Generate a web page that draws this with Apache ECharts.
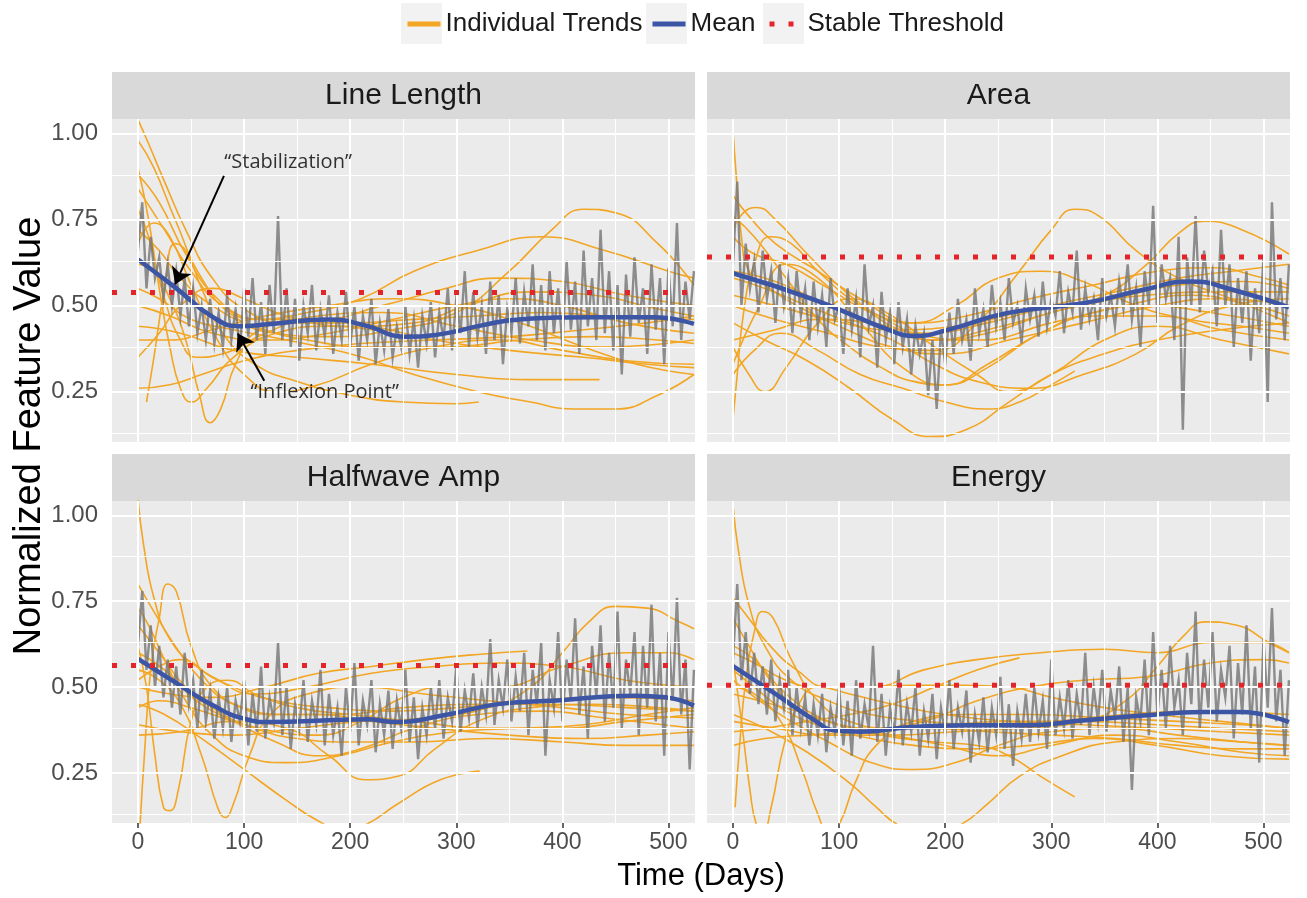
<!DOCTYPE html>
<html><head><meta charset="utf-8">
<script src="https://cdn.jsdelivr.net/npm/echarts@6/dist/echarts.min.js"></script>
<style>html,body{margin:0;padding:0;background:#fff}#c{width:1307px;height:898px}</style>
</head><body><div id="c"></div>
<script>
// ---------------- DATA ----------------
const panelNames = ['Line Length', 'Area', 'Halfwave Amp', 'Energy'];
const thresholds = [0.538, 0.641, 0.5625, 0.505];
const xTickValues = [0, 100, 200, 300, 400, 500];
const xMinorValues = [50, 150, 250, 350, 450];
const yTickValues = [0.25, 0.5, 0.75, 1.0];
const yMinorValues = [0.125, 0.375, 0.625, 0.875];
const legendNames = ['Individual Trends', 'Mean', 'Stable Threshold'];

const meanLineLength = [[0,0.634],[35,0.553],[71,0.466],[96,0.44],[125,0.447],[179,0.46],[215,0.442],[251,0.41],[287,0.418],[323,0.442],[359,0.46],[431,0.466],[486,0.466],[524,0.447]];
const meanArea = [[0,0.594],[77,0.517],[150,0.426],[172,0.412],[204,0.431],[259,0.479],[332,0.508],[387,0.546],[431,0.57],[471,0.546],[524,0.495]];
const meanHalfwave = [[0,0.582],[35,0.514],[71,0.446],[100,0.408],[125,0.398],[179,0.403],[215,0.406],[244,0.398],[287,0.417],[341,0.451],[395,0.461],[468,0.475],[497,0.47],[524,0.446]];
const meanEnergy = [[0,0.561],[40,0.48],[77,0.403],[95,0.374],[120,0.37],[168,0.384],[223,0.389],[277,0.389],[332,0.403],[387,0.417],[442,0.427],[478,0.427],[524,0.398]];

// daily mean (gray), one value every grayStepDays days from day 0
const grayStepDays = 4;
const grayLineLength = [
0.66,0.80,0.55,0.70,0.58,0.64,0.52,0.62,0.50,0.60,
0.47,0.58,0.44,0.55,0.42,0.50,0.40,0.52,0.39,0.48,
0.38,0.53,0.40,0.49,0.37,0.55,0.41,0.58,0.40,0.51,
0.36,0.56,0.42,0.76,0.40,0.55,0.38,0.52,0.34,0.50,
0.42,0.56,0.37,0.49,0.41,0.53,0.36,0.48,0.40,0.54,
0.38,0.50,0.34,0.47,0.40,0.52,0.33,0.45,0.37,0.49,
0.35,0.44,0.38,0.50,0.36,0.46,0.32,0.47,0.39,0.51,
0.35,0.48,0.40,0.55,0.37,0.52,0.42,0.60,0.38,0.54,
0.41,0.50,0.36,0.57,0.40,0.53,0.33,0.49,0.42,0.58,
0.39,0.54,0.44,0.62,0.40,0.56,0.37,0.60,0.42,0.55,
0.38,0.63,0.43,0.57,0.36,0.66,0.44,0.58,0.40,0.72,
0.42,0.60,0.37,0.56,0.30,0.59,0.41,0.64,0.45,0.55,
0.36,0.62,0.43,0.58,0.33,0.61,0.44,0.74,0.40,0.57,
0.46,0.60];
const grayArea = [
0.62,0.86,0.50,0.68,0.55,0.63,0.48,0.66,0.52,0.60,
0.45,0.62,0.50,0.58,0.42,0.60,0.47,0.55,0.40,0.57,
0.44,0.53,0.38,0.58,0.46,0.50,0.36,0.55,0.43,0.52,
0.35,0.62,0.44,0.50,0.32,0.54,0.40,0.48,0.33,0.51,
0.38,0.46,0.30,0.44,0.36,0.42,0.24,0.40,0.20,0.43,
0.33,0.48,0.36,0.52,0.40,0.46,0.34,0.55,0.42,0.49,
0.38,0.56,0.44,0.51,0.40,0.58,0.45,0.50,0.39,0.55,
0.46,0.53,0.41,0.57,0.44,0.52,0.47,0.60,0.42,0.54,
0.48,0.66,0.43,0.55,0.46,0.52,0.40,0.58,0.47,0.53,
0.44,0.57,0.49,0.62,0.46,0.55,0.38,0.60,0.50,0.79,
0.45,0.62,0.52,0.58,0.40,0.70,0.14,0.64,0.50,0.76,
0.48,0.66,0.54,0.60,0.44,0.72,0.50,0.62,0.38,0.58,
0.45,0.60,0.34,0.55,0.42,0.64,0.22,0.80,0.46,0.58,
0.40,0.62];
const grayHalfwave = [
0.62,0.78,0.55,0.68,0.50,0.62,0.47,0.58,0.44,0.56,
0.42,0.60,0.45,0.52,0.38,0.55,0.40,0.49,0.35,0.47,
0.38,0.50,0.34,0.46,0.40,0.52,0.33,0.48,0.37,0.56,
0.35,0.47,0.40,0.63,0.36,0.50,0.32,0.45,0.38,0.52,
0.34,0.46,0.39,0.55,0.33,0.48,0.36,0.44,0.30,0.50,
0.37,0.57,0.33,0.46,0.39,0.52,0.31,0.45,0.36,0.49,
0.32,0.46,0.38,0.55,0.34,0.47,0.29,0.44,0.36,0.50,
0.38,0.52,0.35,0.47,0.40,0.56,0.37,0.49,0.41,0.54,
0.38,0.50,0.42,0.64,0.39,0.52,0.44,0.58,0.40,0.53,
0.43,0.60,0.36,0.55,0.45,0.63,0.30,0.52,0.44,0.66,
0.40,0.58,0.46,0.70,0.42,0.56,0.35,0.62,0.47,0.68,
0.40,0.60,0.44,0.72,0.38,0.58,0.48,0.66,0.36,0.62,
0.44,0.74,0.40,0.60,0.30,0.66,0.46,0.76,0.42,0.58,
0.26,0.55];
const grayEnergy = [
0.58,0.80,0.52,0.66,0.48,0.60,0.45,0.56,0.42,0.58,
0.40,0.52,0.44,0.55,0.36,0.50,0.38,0.47,0.33,0.45,
0.36,0.48,0.31,0.44,0.37,0.50,0.33,0.46,0.30,0.52,
0.35,0.45,0.38,0.62,0.34,0.48,0.30,0.44,0.36,0.55,
0.33,0.45,0.37,0.50,0.30,0.43,0.35,0.48,0.29,0.44,
0.36,0.52,0.32,0.44,0.37,0.49,0.28,0.42,0.34,0.47,
0.31,0.44,0.36,0.53,0.32,0.45,0.27,0.43,0.35,0.48,
0.34,0.50,0.37,0.46,0.32,0.58,0.36,0.47,0.38,0.52,
0.35,0.48,0.39,0.60,0.36,0.50,0.40,0.55,0.37,0.49,
0.41,0.56,0.34,0.50,0.20,0.47,0.40,0.58,0.36,0.66,
0.42,0.55,0.38,0.62,0.44,0.52,0.36,0.60,0.45,0.72,
0.38,0.58,0.44,0.66,0.40,0.55,0.47,0.62,0.35,0.57,
0.42,0.68,0.38,0.56,0.28,0.64,0.44,0.73,0.40,0.55,
0.30,0.52];

// individual trends: [day, value] knots
const trendsLineLength = [
[[0,1.04],[10,0.97],[25,0.86],[45,0.72],[70,0.58],[100,0.49],[140,0.45],[200,0.45],[260,0.46],[320,0.47],[380,0.48],[440,0.47],[500,0.46],[524,0.46]],
[[0,0.98],[15,0.9],[35,0.75],[60,0.58],[90,0.47],[130,0.42],[180,0.41],[240,0.43],[300,0.48],[350,0.6],[390,0.72],[420,0.78],[450,0.77],[490,0.68],[524,0.56]],
[[0,0.88],[20,0.8],[45,0.65],[75,0.52],[110,0.46],[160,0.48],[210,0.52],[260,0.6],[320,0.66],[380,0.7],[440,0.66],[500,0.6],[524,0.58]],
[[0,0.84],[25,0.72],[50,0.6],[80,0.5],[120,0.46],[170,0.46],[230,0.5],[290,0.55],[340,0.58],[400,0.57],[460,0.53],[524,0.5]],
[[0,0.78],[10,0.7],[25,0.52],[40,0.4],[55,0.35],[80,0.36],[120,0.42],[170,0.47],[230,0.48],[300,0.44],[370,0.4],[440,0.38],[524,0.4]],
[[0,0.62],[15,0.6],[30,0.52],[45,0.4],[58,0.24],[68,0.16],[78,0.2],[92,0.33],[115,0.43],[160,0.46],[220,0.44],[280,0.4],[350,0.37],[420,0.35],[480,0.33],[524,0.32]],
[[0,0.26],[30,0.27],[60,0.3],[100,0.34],[150,0.37],[210,0.39],[280,0.4],[350,0.41],[420,0.43],[480,0.45],[524,0.47]],
[[8,0.22],[15,0.35],[25,0.55],[35,0.68],[45,0.66],[60,0.55],[80,0.42],[110,0.33],[150,0.28],[200,0.24],[250,0.22],[300,0.215],[321,0.22]],
[[0,0.44],[40,0.42],[90,0.37],[150,0.35],[220,0.33],[300,0.3],[370,0.285],[435,0.285]],
[[0,0.72],[20,0.66],[40,0.58],[70,0.5],[110,0.44],[160,0.4],[220,0.38],[290,0.38],[360,0.4],[430,0.41],[490,0.4],[524,0.39]],
[[0,0.4],[30,0.4],[70,0.43],[120,0.47],[180,0.5],[240,0.52],[300,0.5],[360,0.45],[420,0.38],[470,0.33],[524,0.3]],
[[0,0.55],[20,0.52],[50,0.46],[90,0.43],[140,0.4],[200,0.36],[260,0.3],[320,0.25],[370,0.22],[410,0.2],[450,0.2],[490,0.24],[524,0.3]],
[[0,0.68],[15,0.74],[30,0.7],[50,0.56],[75,0.4],[100,0.3],[130,0.25],[170,0.27],[220,0.33],[280,0.38],[340,0.4],[400,0.37],[460,0.34],[524,0.33]],
[[0,0.35],[20,0.42],[40,0.5],[70,0.55],[100,0.52],[140,0.47],[200,0.44],[260,0.45],[310,0.5],[370,0.54],[430,0.53],[490,0.49],[524,0.47]],
[[0,0.9],[10,0.75],[20,0.55],[30,0.38],[40,0.26],[50,0.22],[65,0.26],[90,0.35],[130,0.42],[180,0.44],[240,0.42]],
[[0,0.5],[30,0.47],[70,0.42],[120,0.4],[180,0.42],[240,0.46],[300,0.5],[350,0.52],[400,0.5],[460,0.45],[524,0.42]]
];
const trendsArea = [
[[0,1.01],[3,0.88],[8,0.7],[15,0.6],[30,0.56],[60,0.5],[100,0.44],[150,0.38],[200,0.36],[260,0.4],[330,0.45],[400,0.5],[460,0.52],[524,0.5]],
[[0,0.17],[4,0.3],[10,0.48],[20,0.62],[35,0.7],[55,0.68],[80,0.6],[120,0.5],[170,0.42],[230,0.4],[300,0.45],[370,0.5],[430,0.53],[490,0.5],[524,0.47]],
[[0,0.72],[10,0.77],[22,0.785],[40,0.75],[70,0.65],[110,0.53],[150,0.45],[190,0.4],[240,0.42],[300,0.48],[360,0.52],[420,0.56],[480,0.57],[524,0.55]],
[[0,0.5],[40,0.46],[90,0.42],[140,0.38],[190,0.37],[230,0.45],[270,0.6],[300,0.72],[322,0.78],[345,0.76],[380,0.66],[420,0.58],[470,0.52],[524,0.45]],
[[0,0.6],[40,0.57],[90,0.5],[140,0.44],[190,0.4],[240,0.43],[300,0.48],[350,0.53],[390,0.62],[420,0.71],[445,0.745],[480,0.72],[524,0.65]],
[[0,0.45],[30,0.4],[70,0.34],[110,0.26],[150,0.17],[186,0.12],[220,0.14],[260,0.22],[300,0.3],[350,0.36],[400,0.4],[460,0.43],[524,0.45]],
[[0,0.3],[20,0.37],[45,0.42],[80,0.37],[120,0.3],[160,0.26],[200,0.22],[240,0.2],[270,0.22],[300,0.27],[322,0.31]],
[[0,0.82],[15,0.76],[40,0.68],[80,0.6],[120,0.52],[170,0.45],[220,0.47],[280,0.52],[340,0.56],[400,0.6],[450,0.61],[500,0.58],[524,0.56]],
[[0,0.38],[15,0.3],[30,0.25],[50,0.32],[80,0.45],[110,0.52],[150,0.47],[190,0.38],[230,0.3],[260,0.25],[300,0.3],[350,0.4],[400,0.44],[460,0.4],[524,0.36]],
[[0,0.7],[20,0.65],[50,0.62],[90,0.55],[130,0.48],[170,0.45],[210,0.5],[250,0.58],[290,0.6],[330,0.57],[380,0.5],[430,0.46],[480,0.44],[524,0.42]],
[[0,0.58],[30,0.55],[70,0.5],[110,0.45],[150,0.4],[190,0.33],[230,0.28],[280,0.26],[330,0.3],[380,0.36],[420,0.44],[470,0.5],[524,0.52]],
[[0,0.76],[20,0.7],[50,0.58],[80,0.46],[110,0.38],[140,0.32],[170,0.28],[200,0.27],[240,0.33],[290,0.42],[340,0.48],[390,0.5],[450,0.48],[524,0.44]],
[[0,0.4],[40,0.43],[80,0.46],[130,0.45],[180,0.42],[240,0.45],[300,0.5],[360,0.54],[420,0.58],[470,0.6],[524,0.62]],
[[0,0.33],[25,0.5],[50,0.62],[80,0.58],[120,0.45],[160,0.32],[200,0.27],[240,0.32],[290,0.42],[340,0.47],[400,0.47],[460,0.43],[524,0.4]],
[[0,0.53],[40,0.5],[90,0.46],[150,0.43],[210,0.44],[270,0.48],[330,0.51],[390,0.53],[450,0.54],[524,0.54]]
];
const trendsHalfwave = [
[[0,1.05],[5,0.92],[15,0.76],[30,0.64],[55,0.56],[90,0.5],[130,0.46],[180,0.44],[240,0.43],[300,0.44],[370,0.46],[440,0.47],[524,0.46]],
[[0,0.62],[8,0.5],[16,0.3],[24,0.15],[30,0.14],[38,0.2],[50,0.4],[65,0.5],[85,0.52],[110,0.48],[150,0.44],[200,0.42],[260,0.4],[330,0.38],[400,0.38],[460,0.4],[524,0.42]],
[[2,0.1],[6,0.3],[12,0.55],[20,0.7],[28,0.8],[36,0.78],[50,0.62],[70,0.5],[100,0.44],[140,0.42],[190,0.42],[250,0.44],[320,0.45],[390,0.45],[460,0.44],[524,0.43]],
[[0,0.55],[20,0.52],[40,0.45],[60,0.3],[75,0.15],[82,0.12],[90,0.16],[105,0.3],[125,0.42],[160,0.48],[210,0.5],[270,0.48],[330,0.46],[400,0.44],[460,0.42],[524,0.41]],
[[0,0.45],[25,0.42],[60,0.35],[100,0.26],[140,0.17],[170,0.11],[192,0.085],[215,0.1],[245,0.16],[285,0.23],[322,0.255]],
[[0,0.8],[15,0.72],[35,0.62],[60,0.52],[90,0.45],[130,0.42],[170,0.42],[220,0.4],[280,0.38],[350,0.36],[420,0.35],[480,0.36],[524,0.37]],
[[0,0.5],[30,0.48],[70,0.47],[120,0.5],[170,0.54],[220,0.56],[270,0.58],[320,0.595],[367,0.605]],
[[0,0.39],[40,0.37],[90,0.36],[150,0.38],[210,0.4],[270,0.41],[330,0.44],[370,0.5],[400,0.6],[425,0.69],[450,0.735],[480,0.73],[510,0.69],[524,0.67]],
[[0,0.68],[20,0.6],[45,0.5],[75,0.43],[110,0.38],[150,0.35],[200,0.34],[260,0.34],[330,0.35],[400,0.34],[460,0.33],[524,0.33]],
[[0,0.44],[20,0.46],[50,0.44],[90,0.4],[130,0.37],[170,0.36],[210,0.4],[250,0.47],[290,0.5],[340,0.5],[400,0.56],[460,0.6],[500,0.6],[524,0.58]],
[[0,0.36],[40,0.37],[90,0.4],[140,0.38],[180,0.3],[215,0.23],[245,0.24],[280,0.32],[320,0.4],[370,0.44],[430,0.45],[490,0.44],[524,0.43]],
[[0,0.6],[25,0.55],[55,0.46],[90,0.4],[130,0.34],[170,0.3],[210,0.32],[260,0.38],[320,0.42],[380,0.43],[440,0.41],[524,0.38]],
[[0,0.52],[20,0.56],[40,0.58],[70,0.53],[110,0.48],[160,0.5],[220,0.54],[280,0.56],[340,0.57],[400,0.56],[460,0.52],[524,0.5]],
[[0,0.73],[10,0.68],[25,0.58],[45,0.46],[70,0.36],[100,0.3],[140,0.28],[190,0.3],[240,0.34],[300,0.37],[360,0.38],[420,0.39],[480,0.42],[524,0.44]]
];
const trendsEnergy = [
[[0,1.03],[5,0.9],[15,0.74],[30,0.62],[55,0.52],[90,0.46],[130,0.42],[180,0.4],[240,0.39],[300,0.4],[370,0.42],[440,0.43],[524,0.42]],
[[0,0.58],[8,0.4],[16,0.2],[22,0.1],[28,0.08],[36,0.15],[48,0.33],[62,0.45],[80,0.5],[110,0.48],[150,0.45],[200,0.42],[260,0.4],[330,0.39],[400,0.38],[460,0.37],[524,0.36]],
[[2,0.15],[6,0.32],[12,0.52],[20,0.66],[28,0.72],[38,0.7],[55,0.58],[80,0.46],[110,0.4],[150,0.38],[200,0.39],[260,0.4],[330,0.4],[400,0.39],[460,0.38],[524,0.37]],
[[0,0.5],[20,0.48],[45,0.4],[65,0.26],[80,0.13],[90,0.08],[100,0.1],[115,0.22],[135,0.33],[170,0.4],[220,0.42],[280,0.42],[350,0.41],[420,0.4],[480,0.39],[524,0.38]],
[[0,0.42],[30,0.38],[70,0.31],[110,0.22],[135,0.15],[155,0.1],[185,0.07],[215,0.1],[240,0.16],[270,0.24],[310,0.3],[360,0.34],[420,0.35],[480,0.34],[524,0.33]],
[[0,0.62],[20,0.58],[50,0.48],[90,0.4],[140,0.36],[190,0.34],[230,0.33],[260,0.3],[290,0.24],[322,0.18]],
[[0,0.4],[40,0.38],[90,0.36],[150,0.36],[210,0.37],[270,0.38],[330,0.4],[370,0.46],[400,0.56],[425,0.65],[445,0.69],[475,0.68],[505,0.63],[524,0.6]],
[[0,0.76],[15,0.7],[35,0.62],[60,0.55],[90,0.5],[130,0.5],[180,0.55],[230,0.58],[290,0.6],[350,0.61],[400,0.6],[450,0.63],[500,0.63],[524,0.6]],
[[0,0.6],[20,0.57],[50,0.52],[80,0.5],[120,0.5],[170,0.505],[220,0.505],[260,0.5],[300,0.47],[350,0.44],[400,0.42],[460,0.4],[524,0.38]],
[[0,0.37],[30,0.38],[70,0.4],[110,0.42],[150,0.45],[190,0.5],[230,0.55],[270,0.585]],
[[0,0.55],[20,0.5],[50,0.43],[90,0.38],[130,0.35],[170,0.33],[220,0.32],[280,0.33],[340,0.35],[400,0.33],[460,0.3],[524,0.29]],
[[0,0.48],[25,0.46],[60,0.43],[100,0.39],[150,0.36],[200,0.33],[250,0.3],[300,0.33],[360,0.36],[420,0.34],[480,0.31],[524,0.3]],
[[0,0.33],[30,0.35],[70,0.36],[120,0.37],[180,0.38],[240,0.37],[300,0.36],[360,0.35],[420,0.33],[480,0.32],[524,0.32]],
[[0,0.7],[15,0.62],[35,0.52],[60,0.44],[90,0.4],[130,0.38],[180,0.4],[230,0.46],[280,0.5],[330,0.52],[390,0.53],[450,0.57],[500,0.58],[524,0.57]],
[[0,0.52],[25,0.46],[55,0.4],[90,0.34],[130,0.28],[170,0.26],[210,0.28],[250,0.33],[300,0.37],[360,0.38],[420,0.36],[480,0.34],[524,0.33]]
];

const annotations = [
  {text: '\u201cStabilization\u201d', at: [141.5, 0.915], from: [81, 0.877], to: [35, 0.562]},
  {text: '\u201cInflexion Point\u201d', at: [176, 0.247], from: [119, 0.282], to: [94, 0.419]}
];

// ---------------- LAYOUT / STYLE ----------------
const FONT = "'Liberation Sans', Arial, Helvetica, sans-serif";
const X_MIN = -24.5, X_MAX = 525, Y_MIN = 0.104, Y_MAX = 1.042;
const layout = [
  {left: 112, top: 119, width: 583, height: 323},
  {left: 707, top: 119, width: 583, height: 323},
  {left: 112, top: 501, width: 583, height: 322},
  {left: 707, top: 501, width: 583, height: 322}
];
const legendLeft = [405, 650, 767];
const STRIP_H = 47;
const ORANGE = '#f3a623', BLUE = '#3c55a5', RED = '#e3242b', GRAY = '#767676';

const means = [meanLineLength, meanArea, meanHalfwave, meanEnergy];
const grays = [grayLineLength, grayArea, grayHalfwave, grayEnergy];
const trends = [trendsLineLength, trendsArea, trendsHalfwave, trendsEnergy];

const grid = [], xAxis = [], yAxis = [], series = [], graphic = [];

// legend key backgrounds (ggplot style)
legendLeft.forEach(x => graphic.push({type: 'rect',
  shape: {x: x - 4, y: 3, width: 41, height: 41}, style: {fill: '#f2f2f2'}, silent: true, z: -1}));

layout.forEach((l, i) => {
  grid.push({left: l.left, top: l.top, width: l.width, height: l.height, show: true,
    backgroundColor: '#ebebeb', borderWidth: 0});
  const bottomRow = i >= 2, leftCol = i % 2 === 0;
  xAxis.push({type: 'value', gridIndex: i, min: X_MIN, max: X_MAX,
    splitLine: {show: false}, axisLine: {show: false},
    axisTick: {show: bottomRow, customValues: xTickValues, length: 5, lineStyle: {color: '#333', width: 1.5}},
    axisLabel: {show: bottomRow, customValues: xTickValues, fontSize: 23, color: '#4d4d4d', fontFamily: FONT, margin: 8}
  });
  yAxis.push({type: 'value', gridIndex: i, min: Y_MIN, max: Y_MAX,
    splitLine: {show: false}, axisLine: {show: false},
    axisTick: {show: leftCol, customValues: yTickValues, length: 5, lineStyle: {color: '#333', width: 1.5}},
    axisLabel: {show: leftCol, customValues: yTickValues, formatter: v => Number(v).toFixed(2), fontSize: 24, color: '#4d4d4d', fontFamily: FONT, margin: 14}
  });
  // strip header
  graphic.push({type: 'rect', shape: {x: l.left, y: l.top - STRIP_H, width: l.width, height: STRIP_H},
    style: {fill: '#d9d9d9'}, silent: true});
  graphic.push({type: 'text', x: l.left + l.width / 2, y: l.top - STRIP_H / 2,
    style: {text: panelNames[i], fontSize: 30, fontFamily: FONT, fill: '#1a1a1a', align: 'center', verticalAlign: 'middle'}, silent: true});

  // grid lines via the axes' scale
  const gl = [];
  xMinorValues.forEach(v => gl.push({xAxis: v, lineStyle: {color: '#fff', width: 1, type: 'solid'}}));
  yMinorValues.forEach(v => gl.push({yAxis: v, lineStyle: {color: '#fff', width: 1, type: 'solid'}}));
  xTickValues.forEach(v => gl.push({xAxis: v, lineStyle: {color: '#fff', width: 2, type: 'solid'}}));
  yTickValues.forEach(v => gl.push({yAxis: v, lineStyle: {color: '#fff', width: 2, type: 'solid'}}));
  series.push({type: 'line', xAxisIndex: i, yAxisIndex: i, data: [[0, 0.5]], symbol: 'none',
    lineStyle: {opacity: 0}, silent: true, z: 1,
    markLine: {silent: true, symbol: ['none', 'none'], label: {show: false}, animation: false, data: gl}});

  // individual trends
  trends[i].forEach(t => series.push({type: 'line', name: legendNames[0], xAxisIndex: i, yAxisIndex: i,
    data: t, smooth: 0.5, symbol: 'none', showSymbol: false, silent: true, z: 2,
    lineStyle: {color: ORANGE, width: 1.6}, itemStyle: {color: ORANGE}}));

  // daily gray series
  series.push({type: 'line', xAxisIndex: i, yAxisIndex: i,
    data: grays[i].map((v, k) => [k * grayStepDays, v]), symbol: 'none', silent: true, z: 3,
    lineStyle: {color: GRAY, width: 2.4, opacity: 0.82, join: 'miter'}});

  // mean
  series.push({type: 'line', name: legendNames[1], xAxisIndex: i, yAxisIndex: i, data: means[i], smooth: 0.5,
    symbol: 'none', silent: true, z: 4, lineStyle: {color: BLUE, width: 4.5}, itemStyle: {color: BLUE}});

  // threshold
  series.push({type: 'line', name: legendNames[2], xAxisIndex: i, yAxisIndex: i,
    data: [[X_MIN, thresholds[i]], [X_MAX, thresholds[i]]], symbol: 'none', silent: true, z: 5,
    lineStyle: {color: RED, width: 5, type: [5, 14]}, itemStyle: {color: RED}});
});

// annotations on first panel
series.push({type: 'scatter', xAxisIndex: 0, yAxisIndex: 0, symbolSize: 0, silent: true, z: 6,
  data: annotations.map(a => ({value: a.at, label: {formatter: a.text}})),
  label: {show: true, position: 'inside', fontSize: 20, fontFamily: "'Open Sans', sans-serif", color: '#000'},
  markLine: {silent: true, symbol: ['none', 'arrow'], symbolSize: 16, label: {show: false}, animation: false,
    lineStyle: {color: '#000', width: 2, type: 'solid'},
    data: annotations.map(a => [{coord: a.from}, {coord: a.to}])}
});

graphic.push({type: 'text', x: 30, y: 436, rotation: Math.PI / 2,
  style: {text: 'Normalized Feature Value', fontSize: 38, fontFamily: FONT, fill: '#000', align: 'center', verticalAlign: 'middle'}, silent: true});
graphic.push({type: 'text', x: 701, y: 876,
  style: {text: 'Time (Days)', fontSize: 31, fontFamily: FONT, fill: '#000', align: 'center', verticalAlign: 'middle'}, silent: true});

const legend = legendNames.map((n, k) => ({
  top: 11, left: legendLeft[k], padding: 0, itemWidth: 33, itemHeight: 14, selectedMode: false,
  itemStyle: {opacity: 0}, lineStyle: {width: 5}, textStyle: {fontSize: 26, color: '#1a1a1a', fontFamily: FONT},
  data: [n]
}));

const chart = echarts.init(document.getElementById('c'), null, {renderer: 'canvas'});
chart.setOption({
  animation: false,
  backgroundColor: '#fff',
  legend, grid, xAxis, yAxis, series, graphic
});
</script></body></html>
